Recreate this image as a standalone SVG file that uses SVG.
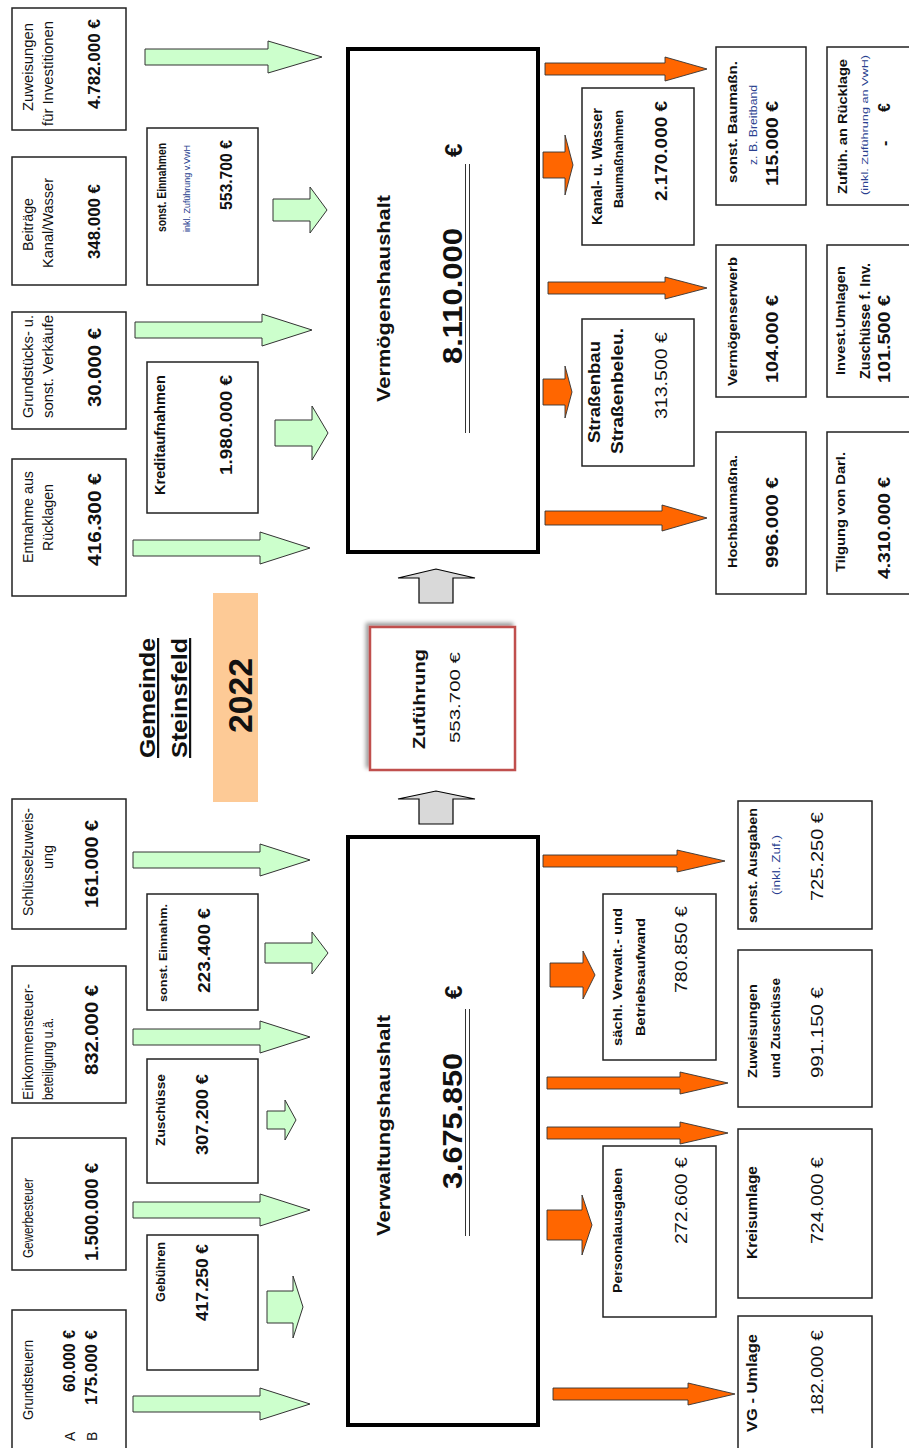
<svg xmlns="http://www.w3.org/2000/svg" width="909" height="1448" viewBox="0 0 909 1448">
<defs>
<style>
.box{fill:#fff;stroke:#222;stroke-width:1.5}
.main{fill:#fff;stroke:#000;stroke-width:4}
.ga{fill:#ccffcc;stroke:#333;stroke-width:1}
.oa{fill:#ff6600;stroke:#333;stroke-width:0.9}
.gr{fill:#d9d9d9;stroke:#000;stroke-width:1.2}
text{font-family:"Liberation Sans",Arial,sans-serif;fill:#111;}
.b{font-weight:bold}
.note{fill:#2a3f8f}
</style>
<filter id="sh" x="-10%" y="-10%" width="120%" height="120%">
<feGaussianBlur in="SourceAlpha" stdDeviation="2"/>
<feOffset dx="-3" dy="-3"/>
<feComponentTransfer><feFuncA type="linear" slope="0.4"/></feComponentTransfer>
<feMerge><feMergeNode/><feMergeNode in="SourceGraphic"/></feMerge>
</filter>
</defs>
<rect width="909" height="1448" fill="#fff"/>

<g id="connectors">
<path class="ga" d="M145 49 H268 V41 L322 57 L268 73 V65 H145 Z"/>
<path class="ga" d="M135 322 H262 V314 L312 330 L262 346 V338 H135 Z"/>
<path class="ga" d="M133 540 H260 V532 L310 548 L260 564 V556 H133 Z"/>
<path class="ga" d="M133 852 H260 V844 L310 860 L260 876 V868 H133 Z"/>
<path class="ga" d="M133 1029 H260 V1021 L310 1037 L260 1053 V1045 H133 Z"/>
<path class="ga" d="M133 1202 H260 V1194 L310 1210 L260 1226 V1218 H133 Z"/>
<path class="ga" d="M133 1396 H260 V1388 L310 1404 L260 1420 V1412 H133 Z"/>
<path class="ga" d="M273 199 H310 V187 L327 210 L310 233 V221 H273 Z"/>
<path class="ga" d="M275 420 H312 V406 L328 433 L312 460 V446 H275 Z"/>
<path class="ga" d="M265 943 H312 V932 L328 953 L312 974 V963 H265 Z"/>
<path class="ga" d="M267 1111 H285 V1100 L296 1120 L285 1140 V1129 H267 Z"/>
<path class="ga" d="M267 1291 H293 V1276 L303 1307 L293 1338 V1323 H267 Z"/>
<path class="oa" d="M545 63 H665 V57 L707 69 L665 81 V75 H545 Z"/>
<path class="oa" d="M548 282 H665 V277 L707 288 L665 299 V294 H548 Z"/>
<path class="oa" d="M545 511 H662 V505 L707 518 L662 531 V525 H545 Z"/>
<path class="oa" d="M543 855 H677 V850 L725 861 L677 872 V867 H543 Z"/>
<path class="oa" d="M547 1077 H680 V1072 L728 1083 L680 1094 V1089 H547 Z"/>
<path class="oa" d="M547 1127 H680 V1122 L728 1133 L680 1144 V1139 H547 Z"/>
<path class="oa" d="M553 1388 H688 V1383 L735 1394 L688 1405 V1400 H553 Z"/>
<path class="oa" d="M543 152 H565 V135 L573 165 L565 195 V178 H543 Z"/>
<path class="oa" d="M543 379 H565 V366 L572 392 L565 418 V405 H543 Z"/>
<path class="oa" d="M550 963 H583 V951 L595 975 L583 999 V987 H550 Z"/>
<path class="oa" d="M547 1210 H582 V1195 L592 1225 L582 1255 V1240 H547 Z"/>
<path class="gr" d="M419 603 V578 H398 L436 569 L475 578 H453 V603 Z"/>
<path class="gr" d="M419 824 V799 H398 L436 791 L475 799 H453 V824 Z"/>
</g>

<!-- left column top -->
<g id="n-zuweisungen-inv"><rect class="box" x="12" y="8" width="114" height="122"/>
<g transform="rotate(-90)">
<text x="-111" y="33" font-size="14" textLength="88" lengthAdjust="spacingAndGlyphs">Zuweisungen</text>
<text x="-126" y="53" font-size="14" textLength="105" lengthAdjust="spacingAndGlyphs">für Investitionen</text>
<text class="b" x="-109" y="100" font-size="17" textLength="90" lengthAdjust="spacingAndGlyphs">4.782.000 €</text>
</g></g>
<g id="n-beitraege"><rect class="box" x="12" y="157" width="114" height="128"/>
<g transform="rotate(-90)">
<text x="-251" y="33" font-size="14" textLength="53" lengthAdjust="spacingAndGlyphs">Beiträge</text>
<text x="-268" y="53" font-size="14" textLength="90" lengthAdjust="spacingAndGlyphs">Kanal/Wasser</text>
<text class="b" x="-259" y="100" font-size="17" textLength="75" lengthAdjust="spacingAndGlyphs">348.000 €</text>
</g></g>
<g id="n-grundstuecke"><rect class="box" x="12" y="312" width="114" height="117"/>
<g transform="rotate(-90)">
<text x="-418" y="33" font-size="14" textLength="103" lengthAdjust="spacingAndGlyphs">Grundstücks- u.</text>
<text x="-418" y="53" font-size="14" textLength="103" lengthAdjust="spacingAndGlyphs">sonst. Verkäufe</text>
<text class="b" x="-407" y="101" font-size="19" textLength="79" lengthAdjust="spacingAndGlyphs">30.000 €</text>
</g></g>
<g id="n-entnahme"><rect class="box" x="12" y="459" width="114" height="137"/>
<g transform="rotate(-90)">
<text x="-563" y="33" font-size="14" textLength="92" lengthAdjust="spacingAndGlyphs">Entnahme aus</text>
<text x="-551" y="53" font-size="14" textLength="67" lengthAdjust="spacingAndGlyphs">Rücklagen</text>
<text class="b" x="-566" y="101" font-size="19" textLength="93" lengthAdjust="spacingAndGlyphs">416.300 €</text>
</g></g>

<!-- left column bottom -->
<g id="n-schluessel"><rect class="box" x="12" y="799" width="114" height="130"/>
<g transform="rotate(-90)">
<text x="-916" y="33" font-size="14" textLength="108" lengthAdjust="spacingAndGlyphs">Schlüsselzuweis-</text>
<text x="-869" y="53" font-size="14" textLength="24" lengthAdjust="spacingAndGlyphs">ung</text>
<text class="b" x="-908" y="98" font-size="18" textLength="88" lengthAdjust="spacingAndGlyphs">161.000 €</text>
</g></g>
<g id="n-einkommen"><rect class="box" x="12" y="966" width="114" height="137"/>
<g transform="rotate(-90)">
<text x="-1100" y="33" font-size="14" textLength="116" lengthAdjust="spacingAndGlyphs">Einkommensteuer-</text>
<text x="-1100" y="53" font-size="14" textLength="82" lengthAdjust="spacingAndGlyphs">beteiligung u.ä.</text>
<text class="b" x="-1075" y="98" font-size="18" textLength="90" lengthAdjust="spacingAndGlyphs">832.000 €</text>
</g></g>
<g id="n-gewerbe"><rect class="box" x="12" y="1138" width="114" height="132"/>
<g transform="rotate(-90)">
<text x="-1258" y="33" font-size="14" textLength="80" lengthAdjust="spacingAndGlyphs">Gewerbesteuer</text>
<text class="b" x="-1261" y="98" font-size="18" textLength="98" lengthAdjust="spacingAndGlyphs">1.500.000 €</text>
</g></g>
<g id="n-grundsteuern"><rect class="box" x="12" y="1310" width="114" height="150"/>
<g transform="rotate(-90)">
<text x="-1420" y="33" font-size="14" textLength="80" lengthAdjust="spacingAndGlyphs">Grundsteuern</text>
<text x="-1441" y="75" font-size="14">A</text>
<text class="b" x="-1392" y="75" font-size="16" textLength="62" lengthAdjust="spacingAndGlyphs">60.000 €</text>
<text x="-1441" y="97" font-size="14">B</text>
<text class="b" x="-1405" y="97" font-size="16" textLength="75" lengthAdjust="spacingAndGlyphs">175.000 €</text>
</g></g>

<!-- column 2 -->
<g id="n-sonst-einnahmen-vmh"><rect class="box" x="147" y="128" width="111" height="157"/>
<g transform="rotate(-90)">
<text class="b" x="-232" y="166" font-size="12" textLength="89" lengthAdjust="spacingAndGlyphs">sonst. Einnahmen</text>
<text class="note" x="-232" y="190" font-size="9" textLength="87" lengthAdjust="spacingAndGlyphs">inkl. Zuführung v.VwH</text>
<text class="b" x="-210" y="232" font-size="17" textLength="70" lengthAdjust="spacingAndGlyphs">553.700 €</text>
</g></g>
<g id="n-kredit"><rect class="box" x="147" y="362" width="111" height="151"/>
<g transform="rotate(-90)">
<text class="b" x="-495" y="165" font-size="14" textLength="120" lengthAdjust="spacingAndGlyphs">Kreditaufnahmen</text>
<text class="b" x="-475" y="232" font-size="17" textLength="100" lengthAdjust="spacingAndGlyphs">1.980.000 €</text>
</g></g>
<g id="n-sonst-einnahm-vwh"><rect class="box" x="147" y="894" width="111" height="116"/>
<g transform="rotate(-90)">
<text class="b" x="-1002" y="167" font-size="11" textLength="98" lengthAdjust="spacingAndGlyphs">sonst. Einnahm.</text>
<text class="b" x="-993" y="210" font-size="16" textLength="85" lengthAdjust="spacingAndGlyphs">223.400 €</text>
</g></g>
<g id="n-zuschuesse"><rect class="box" x="147" y="1059" width="111" height="124"/>
<g transform="rotate(-90)">
<text class="b" x="-1146" y="165" font-size="13" textLength="72" lengthAdjust="spacingAndGlyphs">Zuschüsse</text>
<text class="b" x="-1155" y="208" font-size="16" textLength="81" lengthAdjust="spacingAndGlyphs">307.200 €</text>
</g></g>
<g id="n-gebuehren"><rect class="box" x="147" y="1235" width="111" height="135"/>
<g transform="rotate(-90)">
<text class="b" x="-1302" y="165" font-size="13" textLength="60" lengthAdjust="spacingAndGlyphs">Gebühren</text>
<text class="b" x="-1321" y="208" font-size="16" textLength="77" lengthAdjust="spacingAndGlyphs">417.250 €</text>
</g></g>

<!-- title -->
<g id="n-title">
<g transform="rotate(-90)">
<text class="b" x="-758" y="155" font-size="22" textLength="120" lengthAdjust="spacingAndGlyphs" text-decoration="underline">Gemeinde</text>
<text class="b" x="-758" y="187" font-size="22" textLength="120" lengthAdjust="spacingAndGlyphs" text-decoration="underline">Steinsfeld</text>
</g></g>
<g id="n-year"><rect x="213" y="593" width="45" height="209" fill="#fdca96"/>
<g transform="rotate(-90)">
<text class="b" x="-733" y="252" font-size="34" textLength="75" lengthAdjust="spacingAndGlyphs">2022</text>
</g></g>

<!-- main boxes -->
<g id="n-vermoegenshaushalt"><rect class="main" x="348" y="49" width="190" height="503"/>
<g transform="rotate(-90)">
<text class="b" x="-402" y="390" font-size="19" textLength="207" lengthAdjust="spacingAndGlyphs">Vermögenshaushalt</text>
<text class="b" x="-364" y="462" font-size="28" textLength="136" lengthAdjust="spacingAndGlyphs">8.110.000</text>
<text class="b" x="-157" y="462" font-size="24">€</text>
</g>
<line x1="465.5" y1="164" x2="465.5" y2="433" stroke="#333" stroke-width="1"/>
<line x1="469.5" y1="164" x2="469.5" y2="433" stroke="#333" stroke-width="1"/>
</g>
<g id="n-zufuehrung"><rect x="370" y="627" width="145" height="143" fill="#fff" stroke="#c0504d" stroke-width="2.5" filter="url(#sh)"/>
<g transform="rotate(-90)">
<text class="b" x="-749" y="425" font-size="16" textLength="100" lengthAdjust="spacingAndGlyphs">Zuführung</text>
<text x="-743" y="460" font-size="14" textLength="91" lengthAdjust="spacingAndGlyphs">553.700 €</text>
</g></g>
<g id="n-verwaltungshaushalt"><rect class="main" x="348" y="837" width="190" height="588"/>
<g transform="rotate(-90)">
<text class="b" x="-1236" y="390" font-size="19" textLength="221" lengthAdjust="spacingAndGlyphs">Verwaltungshaushalt</text>
<text class="b" x="-1189" y="462" font-size="28" textLength="136" lengthAdjust="spacingAndGlyphs">3.675.850</text>
<text class="b" x="-999" y="462" font-size="24">€</text>
</g>
<line x1="465.5" y1="1009" x2="465.5" y2="1236" stroke="#333" stroke-width="1"/>
<line x1="469.5" y1="1009" x2="469.5" y2="1236" stroke="#333" stroke-width="1"/>
</g>

<!-- right top -->
<g id="n-kanal"><rect class="box" x="582" y="88" width="112" height="157"/>
<g transform="rotate(-90)">
<text class="b" x="-225" y="602" font-size="14" textLength="117" lengthAdjust="spacingAndGlyphs">Kanal- u. Wasser</text>
<text class="b" x="-208" y="623" font-size="12" textLength="98" lengthAdjust="spacingAndGlyphs">Baumaßnahmen</text>
<text class="b" x="-201" y="667" font-size="16" textLength="100" lengthAdjust="spacingAndGlyphs">2.170.000 €</text>
</g></g>
<g id="n-strassenbau"><rect class="box" x="582" y="319" width="112" height="147"/>
<g transform="rotate(-90)">
<text class="b" x="-443" y="600" font-size="17" textLength="102" lengthAdjust="spacingAndGlyphs">Straßenbau</text>
<text class="b" x="-454" y="623" font-size="17" textLength="126" lengthAdjust="spacingAndGlyphs">Straßenbeleu.</text>
<text x="-419" y="667" font-size="16" textLength="87" lengthAdjust="spacingAndGlyphs">313.500 €</text>
</g></g>
<g id="n-sonst-baum"><rect class="box" x="716" y="47" width="90" height="158"/>
<g transform="rotate(-90)">
<text class="b" x="-183" y="737" font-size="13" textLength="122" lengthAdjust="spacingAndGlyphs">sonst. Baumaßn.</text>
<text class="note" x="-165" y="757" font-size="10" textLength="80" lengthAdjust="spacingAndGlyphs">z. B. Breitband</text>
<text class="b" x="-186" y="778" font-size="17" textLength="85" lengthAdjust="spacingAndGlyphs">115.000 €</text>
</g></g>
<g id="n-vermoegenserwerb"><rect class="box" x="716" y="245" width="90" height="152"/>
<g transform="rotate(-90)">
<text class="b" x="-386" y="737" font-size="13" textLength="129" lengthAdjust="spacingAndGlyphs">Vermögenserwerb</text>
<text class="b" x="-383" y="778" font-size="17" textLength="88" lengthAdjust="spacingAndGlyphs">104.000 €</text>
</g></g>
<g id="n-hochbau"><rect class="box" x="716" y="432" width="90" height="162"/>
<g transform="rotate(-90)">
<text class="b" x="-568" y="737" font-size="13" textLength="113" lengthAdjust="spacingAndGlyphs">Hochbaumaßna.</text>
<text class="b" x="-568" y="778" font-size="17" textLength="91" lengthAdjust="spacingAndGlyphs">996.000 €</text>
</g></g>
<g id="n-ruecklage"><rect class="box" x="827" y="47" width="95" height="158"/>
<g transform="rotate(-90)">
<text class="b" x="-194" y="847" font-size="13" textLength="135" lengthAdjust="spacingAndGlyphs">Zufüh. an Rücklage</text>
<text class="note" x="-195" y="868" font-size="9" textLength="140" lengthAdjust="spacingAndGlyphs">(inkl. Zuführung an  VwH)</text>
<text class="b" x="-146" y="890" font-size="16">-</text>
<text class="b" x="-112" y="890" font-size="16">€</text>
</g></g>
<g id="n-invest"><rect class="box" x="827" y="245" width="95" height="152"/>
<g transform="rotate(-90)">
<text class="b" x="-375" y="845" font-size="13" textLength="109" lengthAdjust="spacingAndGlyphs">Invest.Umlagen</text>
<text class="b" x="-379" y="870" font-size="14" textLength="116" lengthAdjust="spacingAndGlyphs">Zuschüsse f. Inv.</text>
<text class="b" x="-383" y="890" font-size="17" textLength="88" lengthAdjust="spacingAndGlyphs">101.500 €</text>
</g></g>
<g id="n-tilgung"><rect class="box" x="827" y="432" width="95" height="162"/>
<g transform="rotate(-90)">
<text class="b" x="-572" y="845" font-size="13" textLength="120" lengthAdjust="spacingAndGlyphs">Tilgung von Darl.</text>
<text class="b" x="-579" y="890" font-size="17" textLength="102" lengthAdjust="spacingAndGlyphs">4.310.000 €</text>
</g></g>

<!-- right bottom -->
<g id="n-saechl"><rect class="box" x="603" y="894" width="113" height="166"/>
<g transform="rotate(-90)">
<text class="b" x="-1046" y="622" font-size="13" textLength="138" lengthAdjust="spacingAndGlyphs">sächl. Verwalt.- und</text>
<text class="b" x="-1036" y="645" font-size="13" textLength="118" lengthAdjust="spacingAndGlyphs">Betriebsaufwand</text>
<text x="-993" y="687" font-size="16" textLength="87" lengthAdjust="spacingAndGlyphs">780.850 €</text>
</g></g>
<g id="n-personal"><rect class="box" x="603" y="1146" width="113" height="171"/>
<g transform="rotate(-90)">
<text class="b" x="-1293" y="622" font-size="13" textLength="125" lengthAdjust="spacingAndGlyphs">Personalausgaben</text>
<text x="-1244" y="687" font-size="16" textLength="87" lengthAdjust="spacingAndGlyphs">272.600 €</text>
</g></g>
<g id="n-sonst-ausgaben"><rect class="box" x="738" y="801" width="134" height="128"/>
<g transform="rotate(-90)">
<text class="b" x="-923" y="757" font-size="13" textLength="115" lengthAdjust="spacingAndGlyphs">sonst. Ausgaben</text>
<text class="note" x="-895" y="780" font-size="11" textLength="60" lengthAdjust="spacingAndGlyphs">(inkl. Zuf.)</text>
<text x="-901" y="823" font-size="16" textLength="89" lengthAdjust="spacingAndGlyphs">725.250 €</text>
</g></g>
<g id="n-zuweisungen-zusch"><rect class="box" x="738" y="950" width="134" height="157"/>
<g transform="rotate(-90)">
<text class="b" x="-1078" y="757" font-size="13" textLength="94" lengthAdjust="spacingAndGlyphs">Zuweisungen</text>
<text class="b" x="-1078" y="780" font-size="13" textLength="100" lengthAdjust="spacingAndGlyphs">und Zuschüsse</text>
<text x="-1078" y="823" font-size="16" textLength="91" lengthAdjust="spacingAndGlyphs">991.150 €</text>
</g></g>
<g id="n-kreisumlage"><rect class="box" x="738" y="1129" width="134" height="169"/>
<g transform="rotate(-90)">
<text class="b" x="-1259" y="757" font-size="14" textLength="93" lengthAdjust="spacingAndGlyphs">Kreisumlage</text>
<text x="-1244" y="823" font-size="16" textLength="87" lengthAdjust="spacingAndGlyphs">724.000 €</text>
</g></g>
<g id="n-vg-umlage"><rect class="box" x="738" y="1316" width="134" height="145"/>
<g transform="rotate(-90)">
<text class="b" x="-1432" y="757" font-size="14" textLength="98" lengthAdjust="spacingAndGlyphs">VG - Umlage</text>
<text x="-1415" y="823" font-size="16" textLength="85" lengthAdjust="spacingAndGlyphs">182.000 €</text>
</g></g>
</svg>
